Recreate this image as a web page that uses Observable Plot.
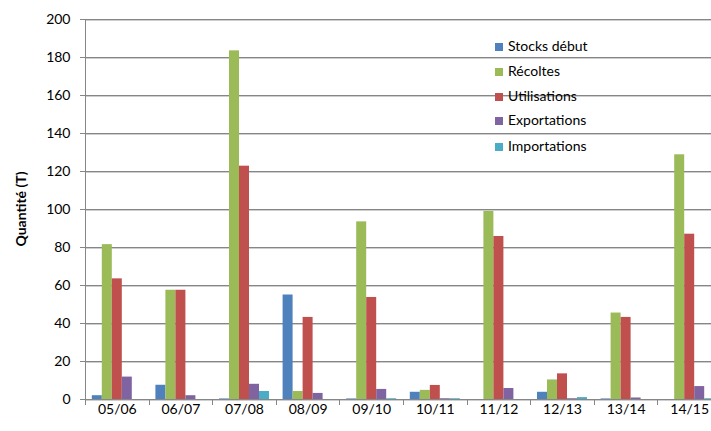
<!DOCTYPE html>
<html><head><meta charset="utf-8">
<script src="https://cdn.jsdelivr.net/npm/d3@7"></script>
<script src="https://cdn.jsdelivr.net/npm/@observablehq/plot@0.6"></script>
<style>
body{margin:0;background:#fff;}
#wrap{position:relative;width:711px;height:431px;overflow:hidden;font-family:Lato,sans-serif;}
#legend{position:absolute;left:495px;top:0;font:14px Lato,sans-serif;color:#000;}
#legend .it{position:absolute;left:0;white-space:nowrap;height:16px;line-height:16px;}
#legend .sw{display:inline-block;width:8px;height:8px;margin-right:5px;vertical-align:0px;}
#ylab{position:absolute;left:20px;top:209px;font:bold 14px Lato,sans-serif;color:#000;white-space:nowrap;transform:translate(-50%,-50%) rotate(-90deg);}
</style></head><body><div id="wrap"></div>
<script>
const years = ["05/06","06/07","07/08","08/09","09/10","10/11","11/12","12/13","13/14","14/15"];
const series = ["Stocks début","Récoltes","Utilisations","Exportations","Importations"];
const stocks       = [2, 7.5, 0.3, 55, 0.3, 3.8, 0, 3.8, 0.3, 0];
const recoltes     = [81.5, 57.5, 183.5, 4.2, 93.5, 4.8, 99, 10.3, 45.5, 128.8];
const utilisations = [63.5, 57.5, 122.8, 43.2, 53.7, 7.4, 85.8, 13.5, 43.2, 87];
const exportations = [11.8, 2, 8, 3.2, 5.3, 0.4, 5.8, 0.4, 0.8, 6.8];
const importations = [0, 0, 4.2, 0, 0.4, 0.4, 0, 1, 0, 0.4];
const colors = ["#4F81BD","#9BBB59","#C0504D","#8064A2","#4BACC6"];
const yTicks = [0,20,40,60,80,100,120,140,160,180,200];
const yTitle = "Quantité (T)";

const values = [stocks, recoltes, utilisations, exportations, importations];
const data = years.flatMap((yr, i) => series.map((s, j) => ({year: yr, series: s, value: values[j][i]})));

const grey = "#868686";
const chart = Plot.plot({
  width: 711, height: 431,
  marginLeft: 85, marginRight: -10, marginTop: 19, marginBottom: 32,
  style: {fontFamily: "Lato, sans-serif", fontSize: "14px", color: "#000", background: "#fff"},
  fx: {domain: years, padding: 0, round: false, label: null},
  x: {domain: series, paddingInner: 0, paddingOuter: 0.68, round: false, axis: null},
  y: {domain: [0, 200], label: null},
  color: {domain: series, range: colors},
  marks: [
    Plot.barY(data, {fx: "year", x: "series", y: "value", fill: "series"}),
    Plot.axisY(yTicks, {tickSize: 5, tickPadding: 10, stroke: grey, fill: "#000", label: null}),
    Plot.axisFx({anchor: "bottom", tickSize: 0, tickPadding: 5, label: null, fill: "#000"})
  ]
});
const wrap = document.getElementById("wrap");
wrap.append(chart);

// gridlines (behind bars), left axis line and category boundary ticks, from the library's scales
const fx = chart.scale("fx"), ys = chart.scale("y");
const y0 = ys.apply(0), yTop = ys.apply(200);
const svg = d3.select(chart);
const left0 = Math.round(fx.apply(years[0])) + 0.5;
const right = Math.round(fx.apply(years[years.length - 1]) + fx.step);
const firstMark = chart.querySelector("g");
const grid = d3.create("svg:g").attr("fill", grey);
yTicks.forEach(t => {
  grid.append("rect").attr("x", left0).attr("width", right - left0)
    .attr("y", Math.round(ys.apply(t))).attr("height", 1.4);
});
chart.insertBefore(grid.node(), firstMark);
const g = svg.append("g").attr("stroke", grey).attr("stroke-width", 1);
g.append("line").attr("x1", left0).attr("x2", left0).attr("y1", yTop).attr("y2", y0 + 6);
years.forEach(d => {
  const b = Math.round(fx.apply(d) + fx.step) + 0.5;
  g.append("line").attr("x1", b).attr("x2", b).attr("y1", y0).attr("y2", y0 + 6);
});

// y title
const yl = document.createElement("div");
yl.id = "ylab"; yl.textContent = yTitle;
wrap.append(yl);

// legend
const leg = document.createElement("div");
leg.id = "legend";
const legTops = [38, 62.5, 87.5, 112, 137.5];
series.forEach((s, j) => {
  const it = document.createElement("div");
  it.className = "it";
  it.style.top = legTops[j] + "px";
  it.innerHTML = `<span class="sw" style="background:${colors[j]}"></span>${s}`;
  leg.append(it);
});
wrap.append(leg);
</script></body></html>
